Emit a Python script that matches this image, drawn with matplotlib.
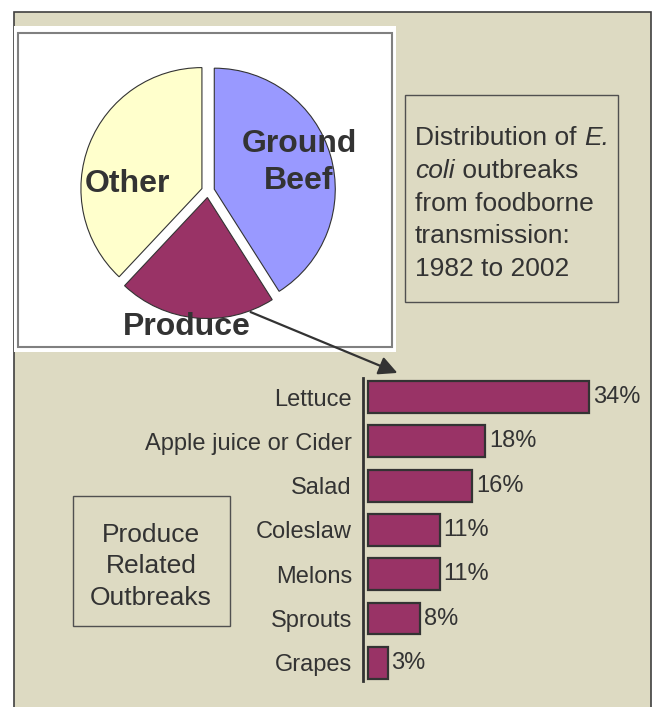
import matplotlib
matplotlib.use("Agg")
import matplotlib.pyplot as plt
from matplotlib.patches import Rectangle, FancyArrowPatch
from matplotlib.transforms import Affine2D

# pie: share of E. coli outbreaks (foodborne)
pie_labels = ["Ground Beef", "Produce", "Other"]
pie_values = [41, 21, 38]
pie_colors = ["#9999FF", "#993366", "#FFFFCC"]

# bars: produce related outbreaks
foods = ["Lettuce", "Apple juice or Cider", "Salad", "Coleslaw", "Melons", "Sprouts", "Grapes"]
shares = [34, 18, 16, 11, 11, 8, 3]

W, H = 653, 707
BG = "#DDDAC2"
INK = "#333333"
plt.rcParams["font.family"] = ["Liberation Sans", "DejaVu Sans"]

fig = plt.figure(figsize=(W / 100, H / 100), dpi=100)
fig.patch.set_facecolor("white")

# pixel coords, origin top-left
pix = Affine2D().scale(1 / W, -1 / H).translate(0, 1) + fig.transFigure


def add_axes_px(x0, y0, x1, y1):
    return fig.add_axes([x0 / W, 1 - y1 / H, (x1 - x0) / W, (y1 - y0) / H])


# ── background panel ──────────────────────────────────
fig.add_artist(Rectangle((14, 12), 637, 720, transform=pix, facecolor=BG,
                         edgecolor="#404040", lw=1.2, zorder=-10))
# white card behind the pie
fig.add_artist(Rectangle((14, 26), 382, 326, transform=pix, facecolor="white",
                         edgecolor="none", zorder=-9))
fig.add_artist(Rectangle((18, 33), 374, 314, transform=pix, facecolor="none",
                         edgecolor="#808080", lw=1.5, zorder=-8))

# ── pie ───────────────────────────────────────────────
cx, cy, half = 208, 191, 150
axp = add_axes_px(cx - half, cy - half, cx + half, cy + half)
axp.pie(pie_values, colors=pie_colors, startangle=90, counterclock=False,
        explode=[0.054] * 3, radius=1,
        wedgeprops=dict(edgecolor=INK, linewidth=0.8))
L = half / 121
axp.set_xlim(-L, L)
axp.set_ylim(-L, L)
axp.set_aspect("equal")
axp.axis("off")

pie_font = dict(fontsize=23, fontweight="bold", color=INK, ha="center",
                va="baseline", transform=pix)
fig.text(299, 152, "Ground", **pie_font)
fig.text(299, 189, "Beef", **pie_font)
fig.text(127, 192, "Other", **pie_font)
fig.text(187, 335, "Produce", **pie_font)

# ── title box ─────────────────────────────────────────
fig.add_artist(Rectangle((405, 95), 213, 207, transform=pix, facecolor="none",
                         edgecolor="#505050", lw=1, zorder=2))
fig.canvas.draw()
renderer = fig.canvas.get_renderer()
box_font = dict(fontsize=19, color=INK, ha="left", va="baseline", transform=pix)
t = fig.text(415, 145, "Distribution of ", **box_font)
bb = t.get_window_extent(renderer)
fig.text(415 + bb.width, 145, "E.", style="italic", **box_font)
t = fig.text(415, 178, "coli", style="italic", **box_font)
bb = t.get_window_extent(renderer)
fig.text(415 + bb.width, 178, " outbreaks", **box_font)
fig.text(415, 211, "from foodborne", **box_font)
fig.text(415, 243, "transmission:", **box_font)
fig.text(415, 276, "1982 to 2002", **box_font)

# ── produce box ───────────────────────────────────────
fig.add_artist(Rectangle((73, 496), 157, 130, transform=pix, facecolor="none",
                         edgecolor="#505050", lw=1, zorder=2))
for yy, line in zip([542, 573, 605], ["Produce", "Related", "Outbreaks"]):
    fig.text(151, yy, line, fontsize=19, color=INK, ha="center",
             va="baseline", transform=pix)

# ── bar chart ─────────────────────────────────────────
axb = add_axes_px(363, 378, 650, 681)
axb.set_facecolor("none")
ypos = list(range(len(foods)))
axb.barh(ypos, shares, height=0.72, color="#993366", edgecolor=INK, linewidth=1.6)
for y, v in zip(ypos, shares):
    axb.text(v + 0.6, y, f"{v}%", fontsize=17, color=INK, va="center", ha="left")
axb.set_xlim(-0.77, -0.77 + 287 / 6.5)
axb.set_ylim(6.41, -0.43)
axb.set_yticks(ypos)
axb.set_yticklabels(foods, fontsize=17, color=INK)
axb.tick_params(axis="y", length=0, pad=8)
axb.set_xticks([])
for s in ["top", "right", "bottom"]:
    axb.spines[s].set_visible(False)
axb.spines["left"].set_color(INK)
axb.spines["left"].set_linewidth(2)

# arrow from pie slice to bars
fig.add_artist(FancyArrowPatch((248, 311), (400, 374), transform=pix,
                               arrowstyle="-|>", mutation_scale=28,
                               color=INK, lw=1.6, zorder=5))

fig.savefig("out.png", dpi=100)
